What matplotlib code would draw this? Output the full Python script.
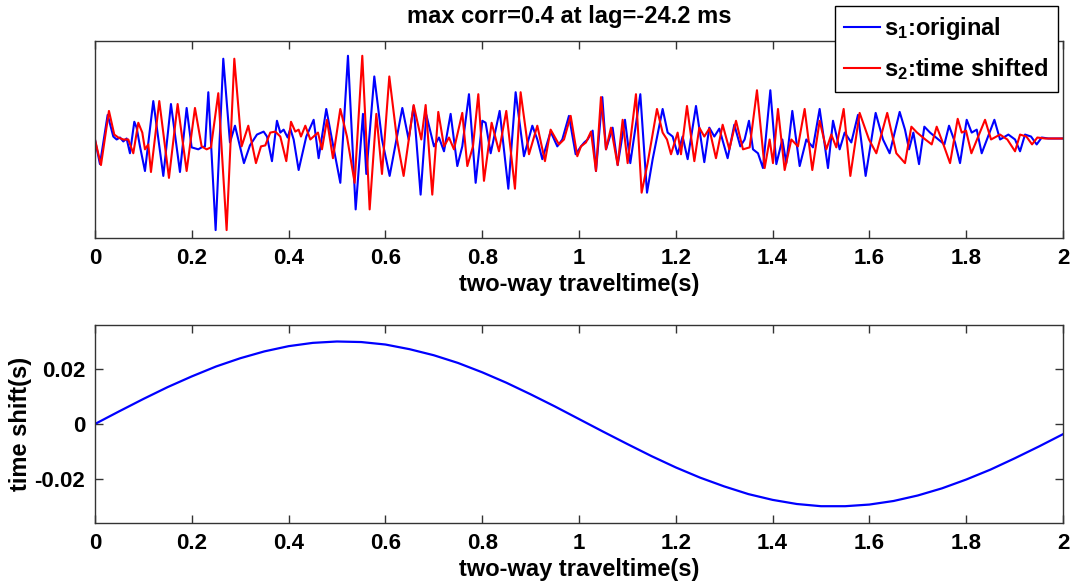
import numpy as np
import matplotlib
matplotlib.use("Agg")
import matplotlib.pyplot as plt

plt.rcParams["font.family"] = ["Liberation Sans", "DejaVu Sans"]
plt.rcParams["font.weight"] = "bold"
plt.rcParams["mathtext.fontset"] = "custom"
plt.rcParams["mathtext.rm"] = "Liberation Sans:bold"
plt.rcParams["mathtext.it"] = "Liberation Sans:bold"
plt.rcParams["mathtext.bf"] = "Liberation Sans:bold"

# s1 : original trace (time in ms, normalised amplitude)
t_s1 = [0, 10.3, 26.2, 37.9, 44.8, 51.7, 58.5, 65.4, 72.3, 81.3, 86.1, 93.0, 103.3, 120.5,
        141.2, 157.0, 175.6, 189.4, 199.7, 213.5, 220.4, 227.3, 234.2, 249.3, 265.1, 278.9,
        289.3, 307.8, 320.2, 334.7, 348.5, 355.4, 365.7, 376.0, 382.9, 389.8, 398.1, 403.6,
        410.5, 420.8, 436.6, 451.8, 462.1, 477.9, 489.7, 506.9, 522.7, 538.6, 553.7, 560.6,
        577.1, 593.0, 608.8, 635.0, 648.1, 658.4, 672.8, 684.6, 700.4, 710.7, 721.1, 734.8,
        748.6, 758.9, 772.7, 786.5, 800.3, 807.1, 817.5, 836.1, 854.0, 869.1, 886.3, 903.6,
        913.9, 924.2, 941.4, 955.2, 965.5, 979.3, 993.1, 1004.1, 1011.0, 1017.9, 1028.2,
        1035.1, 1048.2, 1055.8, 1069.5, 1079.9, 1095.0, 1106.0, 1126.7, 1140.5, 1152.2,
        1172.8, 1183.2, 1193.5, 1203.8, 1214.1, 1224.5, 1241.7, 1258.9, 1269.2, 1279.6,
        1289.9, 1307.1, 1320.9, 1333.3, 1342.2, 1351.2, 1359.5, 1369.8, 1380.1, 1395.3,
        1407.7, 1420.1, 1428.3, 1440.7, 1455.9, 1469.7, 1483.4, 1497.2, 1514.4, 1524.8,
        1538.5, 1548.9, 1562.6, 1576.4, 1592.2, 1612.9, 1628.1, 1641.8, 1662.5, 1673.5,
        1681.9, 1690.8, 1702.5, 1713.5, 1725.3, 1742.5, 1754.9, 1764.5, 1776.9, 1787.2,
        1801.0, 1811.3, 1821.7, 1832.0, 1858.2, 1869.9, 1887.1, 1900.9, 1911.2, 1921.5,
        1933.9, 1945.6, 1956.0, 1969.7, 2000]
a_s1 = [0, -0.25, 0.25, 0.03, 0, 0.02, -0.02, 0.01, -0.14, 0.18, 0.12, -0.07, -0.32, 0.39,
        -0.37, 0.36, -0.33, 0.32, -0.08, -0.10, -0.08, -0.07, 0.48, -0.92, 0.82, -0.03,
        0.14, -0.24, -0.06, 0.05, 0.08, 0.03, -0.22, 0.19, 0.07, 0.10, 0.02, 0.11,
        0, -0.31, 0.03, 0.20, -0.19, 0.31, 0, -0.44, 0.85, -0.71, 0.26, -0.35,
        0.64, 0, -0.37, 0.32, 0, 0.34, -0.56, 0.25, -0.07, 0.02, -0.12, 0.26,
        -0.27, -0.07, 0.46, -0.44, 0.19, 0.17, -0.14, 0.29, -0.50, 0.48, -0.17, 0.14,
        0, -0.20, 0.08, -0.07, 0, 0.24, -0.15, -0.07, -0.03, 0, 0.09,
        -0.32, 0.43, -0.10, 0.12, -0.26, 0.20, -0.24, 0.46, -0.54, -0.20,
        0.31, 0.07, 0.03, -0.15, 0.03, -0.20, 0.34, -0.23, 0.12, 0.03,
        0.11, -0.19, 0.15, -0.07, 0, 0.19, -0.10, -0.14, -0.29, 0.50,
        -0.25, 0, -0.24, 0.29, -0.27, 0, -0.08, 0.31, -0.29, 0.19,
        -0.10, 0.07, -0.03, 0.25, -0.37, 0.27, 0, -0.14, 0.28, 0.10,
        -0.10, 0.07, -0.25, 0.13, 0.07, 0, -0.05, 0.14, -0.03, -0.24,
        0.20, 0.07, 0.10, -0.14, 0.20, 0, 0.05, 0, -0.12, 0.05,
        0.03, -0.05, 0.02, 0.01, 0.01]

# s2 : time shifted trace
t_s2 = [0, 12.4, 28.9, 39.9, 48.2, 58.5, 68.9, 79.2, 89.5, 97.8, 103.3, 110.2, 115.7, 132.9,
        152.9, 170.8, 189.4, 206.6, 220.4, 230.7, 239.7, 254.8, 272.0, 287.9, 303.0, 316.8,
        332.6, 343.0, 351.9, 362.2, 372.6, 382.9, 395.3, 405.0, 413.9, 420.8, 425.6, 434.6,
        444.9, 460.7, 469.0, 479.3, 491.7, 506.9, 520.6, 536.5, 552.3, 567.5, 581.3, 593.0,
        608.1, 624.0, 637.7, 658.4, 674.2, 683.2, 696.9, 709.3, 721.1, 731.4, 741.7, 758.9,
        769.3, 781.0, 792.0, 803.7, 819.5, 834.7, 849.8, 867.7, 879.4, 896.7, 913.9, 929.7,
        941.4, 958.6, 969.0, 982.8, 996.5, 1004.1, 1014.4, 1024.8, 1035.1, 1045.4, 1055.8,
        1066.1, 1079.9, 1090.2, 1100.5, 1117.7, 1129.4, 1141.8, 1161.1, 1172.8, 1181.8,
        1190.1, 1203.8, 1210.7, 1223.1, 1238.3, 1248.6, 1258.9, 1269.2, 1283.0, 1296.8,
        1310.6, 1324.4, 1338.8, 1352.6, 1367.7, 1383.6, 1393.9, 1400.8, 1411.1, 1424.9,
        1438.7, 1452.4, 1466.2, 1482.0, 1497.2, 1511.0, 1521.3, 1531.6, 1546.8, 1560.6,
        1579.8, 1599.1, 1614.3, 1636.8, 1655.6, 1673.5, 1686.7, 1698.4, 1715.6, 1728.7,
        1739.0, 1751.4, 1766.6, 1782.4, 1790.7, 1799.6, 1810.7, 1838.9, 1851.3, 1869.9,
        1885.0, 1900.9, 1911.2, 1924.3, 1936.0, 1947.0, 1962.9, 2000]
a_s2 = [0, -0.26, 0.29, 0.05, 0.02, 0, 0, -0.14, 0.17, 0.07, -0.10, -0.05, -0.33, 0.39,
        -0.39, 0.36, -0.32, 0.32, -0.07, -0.10, -0.08, 0.47, -0.92, 0.82, -0.07, 0.14,
        -0.24, -0.07, -0.06, 0.07, 0.08, 0.03, -0.22, 0.18, 0.08, 0.10, 0.03, 0.14,
        0, 0.07, -0.10, 0.20, -0.19, 0.31, 0.03, -0.44, 0.85, -0.71, 0.26, -0.35,
        0.64, 0, -0.37, 0.35, 0, 0.35, -0.56, 0.28, -0.07, 0.02, -0.10, 0.27,
        -0.27, -0.07, 0.46, -0.42, 0.17, -0.12, 0.29, -0.50, 0.48, -0.15, 0.14, -0.22,
        0.10, -0.05, 0, 0.24, -0.17, -0.07, -0.03, 0.08, -0.32, 0.43, -0.10,
        0.12, -0.26, 0.20, -0.24, 0.46, -0.54, -0.24, 0.31, 0.07, 0,
        -0.15, 0.07, -0.15, 0.34, -0.22, 0.12, 0.03, 0.11, -0.19, 0.15,
        -0.10, 0.19, -0.10, -0.08, 0.50, -0.29, 0, -0.24, 0.31, -0.31,
        0, -0.07, 0.31, -0.31, 0.19, -0.10, 0.05, -0.08, 0.31, -0.37,
        0.27, 0, -0.14, 0.27, -0.14, -0.24, 0.13, 0.07, 0, -0.05,
        0.13, -0.03, -0.24, 0.21, 0.07, 0.09, -0.14, 0.20, 0, 0.05,
        0, -0.12, 0.05, 0.03, -0.05, 0.02, 0.01, 0.01]

# time shift curve (s) at every 0.05 s
t_shift = [0.0, 0.05, 0.1, 0.15, 0.2, 0.25, 0.3, 0.35, 0.4, 0.45, 0.5, 0.55, 0.6, 0.65, 0.7,
           0.75, 0.8, 0.85, 0.9, 0.95, 1.0, 1.05, 1.1, 1.15, 1.2, 1.25, 1.3, 1.35, 1.4, 1.45,
           1.5, 1.55, 1.6, 1.65, 1.7, 1.75, 1.8, 1.85, 1.9, 1.95, 2.0]
shift = [0.0, 0.0046, 0.0091, 0.0134, 0.0173, 0.0209, 0.0239, 0.0264, 0.0283, 0.0295, 0.0300,
         0.0298, 0.0289, 0.0272, 0.0250, 0.0222, 0.0188, 0.0150, 0.0108, 0.0064, 0.0018,
         -0.0028, -0.0073, -0.0117, -0.0158, -0.0195, -0.0227, -0.0255, -0.0276, -0.0291,
         -0.0299, -0.0299, -0.0293, -0.0280, -0.0260, -0.0234, -0.0202, -0.0166, -0.0125,
         -0.0082, -0.0037]

title_txt = "max corr=0.4 at lag=-24.2 ms"
xlab = "two-way traveltime(s)"
xticks = [0, 0.2, 0.4, 0.6, 0.8, 1, 1.2, 1.4, 1.6, 1.8, 2]
xticklabels = ["0", "0.2", "0.4", "0.6", "0.8", "1", "1.2", "1.4", "1.6", "1.8", "2"]

frame = "#333333"
fig = plt.figure(figsize=(10.73, 5.84), dpi=100)
ax1 = fig.add_axes([0.0885, 0.5925, 0.9022, 0.3373])
ax2 = fig.add_axes([0.0885, 0.1045, 0.9022, 0.339])


def style(ax):
    for s in ax.spines.values():
        s.set_color(frame)
        s.set_linewidth(1.0)
    ax.tick_params(direction="in", top=True, right=True, length=6, width=1,
                   color=frame, labelsize=16, pad=7)
    ax.set_xlim(0, 2)
    ax.set_xticks(xticks)
    ax.set_xticklabels(xticklabels, fontweight="bold")
    ax.set_xlabel(xlab, fontsize=17, fontweight="bold", labelpad=3)


ax1.plot(np.array(t_s1) / 1000, a_s1, color="#0000ff", lw=1.5, label="s$_1$:original",
         solid_joinstyle="round")
ax1.plot(np.array(t_s2) / 1000, a_s2, color="#ff0000", lw=1.5, label="s$_2$:time shifted",
         solid_joinstyle="round")
style(ax1)
ax1.set_ylim(-1, 1)
ax1.set_yticks([])
ax1.set_title(title_txt, fontsize=17, fontweight="bold", pad=13, x=0.49)
leg = ax1.legend(loc="upper right", bbox_to_anchor=(0.9948, 1.178), borderaxespad=0,
                 fancybox=False, framealpha=1, edgecolor="black", fontsize=17,
                 handlelength=1.5, handletextpad=0.2, labelspacing=0.6, borderpad=0.4)
leg.get_frame().set_linewidth(1.0)
for txt in leg.get_texts():
    txt.set_fontweight("bold")

ax2.plot(t_shift, shift, color="#0000ff", lw=1.6)
style(ax2)
ax2.set_ylim(-0.036, 0.036)
ax2.set_yticks([-0.02, 0, 0.02])
ax2.set_yticklabels(["-0.02", "0", "0.02"], fontweight="bold")
ax2.set_ylabel("time shift(s)", fontsize=17, fontweight="bold", labelpad=2)

fig.savefig("out.png", dpi=100)
